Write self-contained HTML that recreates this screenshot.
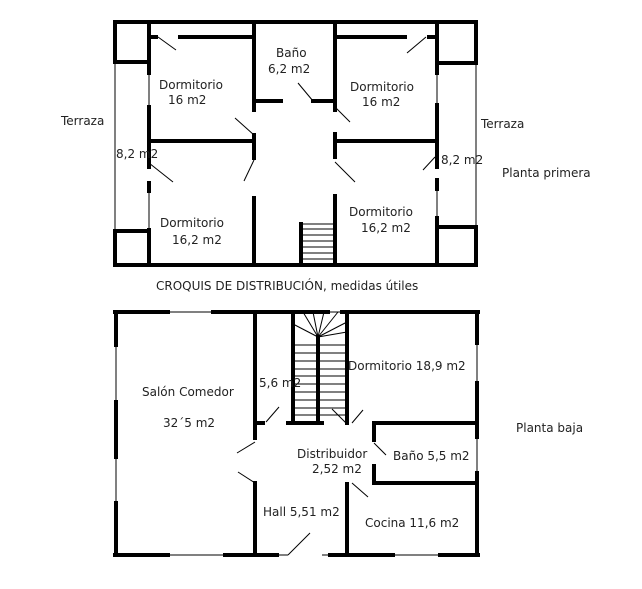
<!DOCTYPE html>
<html><head><meta charset="utf-8"><style>
html,body{margin:0;padding:0;background:#fff;width:642px;height:589px;overflow:hidden}
svg text{font-family:"DejaVu Sans","Liberation Sans",sans-serif;font-size:12px;fill:#222}
</style></head><body>
<svg width="642" height="589" viewBox="0 0 642 589" xmlns="http://www.w3.org/2000/svg">
<g stroke="#000" stroke-width="4" fill="none" stroke-linecap="square">
<!-- TOP PLAN outer -->
<line x1="115" y1="22" x2="476" y2="22"/>
<line x1="115" y1="265" x2="476" y2="265"/>
<line x1="115" y1="22" x2="115" y2="62"/>
<line x1="115" y1="231" x2="115" y2="265"/>
<line x1="476" y1="22" x2="476" y2="63"/>
<line x1="476" y1="227" x2="476" y2="265"/>
<line x1="115" y1="62" x2="149" y2="62"/>
<line x1="115" y1="231" x2="149" y2="231"/>
<line x1="437" y1="63" x2="476" y2="63"/>
<line x1="437" y1="227" x2="476" y2="227"/>
<!-- left wall of rooms -->
<line x1="149" y1="22" x2="149" y2="73"/>
<line x1="149" y1="107" x2="149" y2="167"/>
<line x1="149" y1="183" x2="149" y2="191"/>
<line x1="149" y1="230" x2="149" y2="265"/>
<line x1="437" y1="22" x2="437" y2="73"/>
<line x1="437" y1="105" x2="437" y2="167"/>
<line x1="437" y1="180" x2="437" y2="189"/>
<line x1="437" y1="218" x2="437" y2="265"/>
<!-- top inner -->
<line x1="149" y1="37" x2="156" y2="37"/>
<line x1="180" y1="37" x2="253" y2="37"/>
<line x1="336" y1="37" x2="405" y2="37"/>
<line x1="429" y1="37" x2="437" y2="37"/>
<line x1="254" y1="22" x2="254" y2="110"/>
<line x1="335" y1="22" x2="335" y2="110"/>
<line x1="254" y1="101" x2="281" y2="101"/>
<line x1="313" y1="101" x2="335" y2="101"/>
<line x1="149" y1="141" x2="254" y2="141"/>
<line x1="254" y1="135" x2="254" y2="158"/>
<line x1="335" y1="134" x2="335" y2="157"/>
<line x1="335" y1="141" x2="437" y2="141"/>
<line x1="254" y1="198" x2="254" y2="265"/>
<line x1="335" y1="196" x2="335" y2="265"/>
<line x1="301" y1="224" x2="301" y2="265"/>
<!-- BOTTOM PLAN outer -->
<line x1="115" y1="312" x2="168" y2="312"/>
<line x1="213" y1="312" x2="328" y2="312"/>
<line x1="342" y1="312" x2="478" y2="312"/>
<line x1="116" y1="312" x2="116" y2="345"/>
<line x1="116" y1="402" x2="116" y2="457"/>
<line x1="116" y1="503" x2="116" y2="555"/>
<line x1="115" y1="555" x2="168" y2="555"/>
<line x1="225" y1="555" x2="277" y2="555"/>
<line x1="330" y1="555" x2="393" y2="555"/>
<line x1="440" y1="555" x2="478" y2="555"/>
<line x1="477" y1="312" x2="477" y2="343"/>
<line x1="477" y1="383" x2="477" y2="437"/>
<line x1="477" y1="473" x2="477" y2="555"/>
<line x1="255" y1="313" x2="255" y2="438"/>
<line x1="255" y1="423" x2="263" y2="423"/>
<line x1="255" y1="483" x2="255" y2="553"/>
<line x1="293" y1="313" x2="293" y2="423"/>
<line x1="318" y1="337" x2="318" y2="423"/>
<line x1="347" y1="313" x2="347" y2="423"/>
<line x1="288" y1="423" x2="322" y2="423"/>
<line x1="374" y1="423" x2="477" y2="423"/>
<line x1="374" y1="423" x2="374" y2="440"/>
<line x1="374" y1="466" x2="374" y2="483"/>
<line x1="374" y1="483" x2="477" y2="483"/>
<line x1="347" y1="484" x2="347" y2="555"/>
</g>
<g stroke="#000" stroke-width="1" fill="none">
<line x1="115" y1="62" x2="115" y2="231"/>
<line x1="476" y1="63" x2="476" y2="227"/>
<line x1="149" y1="73" x2="149" y2="107"/>
<line x1="149" y1="191" x2="149" y2="230"/>
<line x1="437" y1="73" x2="437" y2="105"/>
<line x1="437" y1="189" x2="437" y2="218"/>
<line x1="158" y1="37" x2="176" y2="50"/>
<line x1="407" y1="53" x2="426" y2="37"/>
<line x1="298" y1="83" x2="313" y2="101"/>
<line x1="235" y1="118" x2="254" y2="135"/>
<line x1="244" y1="181" x2="254" y2="160"/>
<line x1="335" y1="107" x2="350" y2="122"/>
<line x1="335" y1="162" x2="355" y2="182"/>
<line x1="149" y1="163" x2="173" y2="182"/>
<line x1="435" y1="157" x2="423" y2="170"/>
<line x1="301" y1="229" x2="333" y2="229"/>
<line x1="301" y1="235" x2="333" y2="235"/>
<line x1="301" y1="241" x2="333" y2="241"/>
<line x1="301" y1="247" x2="333" y2="247"/>
<line x1="301" y1="253" x2="333" y2="253"/>
<line x1="301" y1="259" x2="333" y2="259"/>
<line x1="301" y1="224" x2="333" y2="224"/>
<!-- bottom thin -->
<line x1="168" y1="312" x2="213" y2="312"/>
<line x1="328" y1="312" x2="342" y2="312"/>
<line x1="116" y1="345" x2="116" y2="402"/>
<line x1="116" y1="457" x2="116" y2="503"/>
<line x1="168" y1="555" x2="225" y2="555"/>
<line x1="277" y1="555" x2="288" y2="555"/>
<line x1="322" y1="555" x2="330" y2="555"/>
<line x1="393" y1="555" x2="440" y2="555"/>
<line x1="477" y1="343" x2="477" y2="383"/>
<line x1="477" y1="437" x2="477" y2="473"/>
<line x1="288" y1="555" x2="310" y2="533"/>
<line x1="266" y1="422" x2="279" y2="407"/>
<line x1="237" y1="453" x2="255" y2="442"/>
<line x1="238" y1="472" x2="255" y2="483"/>
<line x1="332" y1="409" x2="346" y2="423"/>
<line x1="352" y1="423" x2="363" y2="410"/>
<line x1="374" y1="443" x2="386" y2="455"/>
<line x1="352" y1="483" x2="368" y2="497"/>
<!-- stairs -->
<line x1="293" y1="345" x2="347" y2="345"/>
<line x1="293" y1="353" x2="347" y2="353"/>
<line x1="293" y1="361" x2="347" y2="361"/>
<line x1="293" y1="369" x2="347" y2="369"/>
<line x1="293" y1="376" x2="347" y2="376"/>
<line x1="293" y1="384" x2="347" y2="384"/>
<line x1="293" y1="392" x2="347" y2="392"/>
<line x1="293" y1="400" x2="347" y2="400"/>
<line x1="293" y1="408" x2="347" y2="408"/>
<line x1="293" y1="415" x2="347" y2="415"/>
<line x1="318" y1="337" x2="293" y2="324"/>
<line x1="318" y1="337" x2="303" y2="312"/>
<line x1="318" y1="337" x2="313" y2="312"/>
<line x1="318" y1="337" x2="324" y2="312"/>
<line x1="318" y1="337" x2="338" y2="312"/>
<line x1="318" y1="337" x2="347" y2="322"/>
<line x1="318" y1="337" x2="347" y2="332"/>
</g>
<text x="159" y="89">Dormitorio</text>
<text x="168" y="104">16 m2</text>
<text x="276" y="57">Baño</text>
<text x="268" y="73">6,2 m2</text>
<text x="350" y="91">Dormitorio</text>
<text x="362" y="106">16 m2</text>
<text x="160" y="227">Dormitorio</text>
<text x="172" y="244">16,2 m2</text>
<text x="349" y="216">Dormitorio</text>
<text x="361" y="232">16,2 m2</text>
<text x="116" y="158">8,2 m2</text>
<text x="441" y="164">8,2 m2</text>
<text x="61" y="125">Terraza</text>
<text x="481" y="128">Terraza</text>
<text x="502" y="177">Planta primera</text>
<text x="156" y="290">CROQUIS DE DISTRIBUCIÓN, medidas útiles</text>
<text x="142" y="396">Salón Comedor</text>
<text x="163" y="427">32´5 m2</text>
<text x="259" y="387">5,6 m2</text>
<text x="348" y="370">Dormitorio 18,9 m2</text>
<text x="297" y="458">Distribuidor</text>
<text x="312" y="473">2,52 m2</text>
<text x="393" y="460">Baño 5,5 m2</text>
<text x="263" y="516">Hall 5,51 m2</text>
<text x="365" y="527">Cocina 11,6 m2</text>
<text x="516" y="432">Planta baja</text>
</svg>
</body></html>
